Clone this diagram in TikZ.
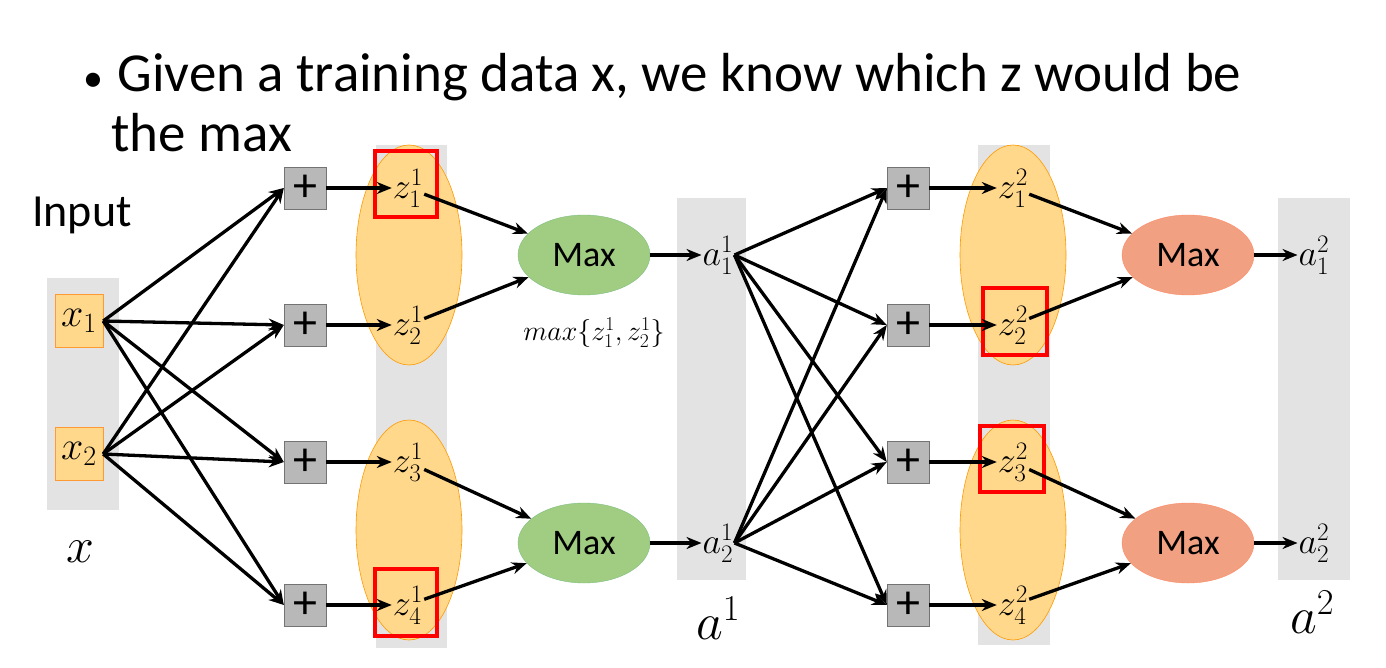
\documentclass[tikz,border=0pt]{standalone}
\usepackage{fix-cm}
\usepackage{fontspec}
\setmainfont{Carlito}
\usetikzlibrary{arrows.meta,shapes.geometric}
\definecolor{ellc}{RGB}{255,216,140}
\definecolor{gfill}{RGB}{160,205,130}
\definecolor{rfill}{RGB}{242,160,130}
\begin{document}
\begin{tikzpicture}[x=1pt,y=-1pt,
  col/.style={fill=black!11,draw=none},
  ell/.style={ellipse,fill=ellc,draw=orange!80!yellow,line width=0.6pt,minimum width=106pt,minimum height=220pt},
  plus/.style={draw=black!55,fill=black!28,minimum size=42pt,inner sep=0pt,font=\fontsize{48}{48}\selectfont},
  xb/.style={draw=orange!80,fill=ellc,minimum width=48pt,minimum height=53pt,inner sep=0pt,font=\fontsize{40}{40}\selectfont},
  lab/.style={font=\fontsize{36}{36}\selectfont,inner sep=1pt},
  gmax/.style={ellipse,fill=gfill,draw=green!50!black!50,minimum width=132pt,minimum height=80pt,font=\fontsize{36}{36}\selectfont},
  rmax/.style={ellipse,fill=rfill,draw=red!50!orange!60,minimum width=132pt,minimum height=80pt,font=\fontsize{36}{36}\selectfont},
  red/.style={draw=red,line width=4pt},
  ar/.style={-{Stealth[length=15pt,width=12pt]},line width=3.3pt}]
\useasboundingbox (0,0) rectangle (1386,668);
\node[anchor=west,font=\fontsize{55}{60}\selectfont,align=left] (t) at (80,103) {{\fontsize{40}{40}\selectfont\textbullet}\hspace{14pt}Given a training data x, we know which z would be\\\hspace{28pt}the max};
\node[font=\fontsize{46}{46}\selectfont] (in) at (82,215) {Input};
\fill[col] (47,278) rectangle (119,510);
\fill[col] (376,145) rectangle (447,648);
\fill[col] (677,198) rectangle (746,580);
\fill[col] (978,145) rectangle (1050,645);
\fill[col] (1278,198) rectangle (1350,580);
\node[ell] (e1) at (409,255) {};
\node[ell] (e2) at (409,530) {};
\node[ell] (e3) at (1013,255) {};
\node[ell] (e4) at (1013,530) {};
\node[xb] (x1) at (79,321) {$x_1$};
\node[xb] (x2) at (79,454) {$x_2$};
\node[font=\fontsize{50}{50}\selectfont] (xl) at (80,552) {$x$};
\foreach \i/\y in {1/188,2/325,3/462,4/605}{
  \node[plus] (p\i) at (305,\y) {+};
  \node[plus] (q\i) at (908,\y) {+};
  \node[lab] (z\i) at (408,\y) {$z^1_\i$};
  \node[lab] (w\i) at (1013,\y) {$z^2_\i$};
}
\draw[red] (375,151) rectangle (437,217);
\draw[red] (375,569) rectangle (437,636);
\draw[red] (983,288) rectangle (1047,355);
\draw[red] (980,426) rectangle (1044,492);
\node[gmax] (m1) at (584,255) {Max};
\node[gmax] (m2) at (584,543) {Max};
\node[rmax] (r1) at (1188,255) {Max};
\node[rmax] (r2) at (1188,543) {Max};
\node[font=\fontsize{28}{28}\selectfont] (mx) at (594,333) {$max\{z^1_1,z^1_2\}$};
\node[lab] (a1) at (718,255) {$a^1_1$};
\node[lab] (a2) at (718,543) {$a^1_2$};
\node[lab] (b1) at (1314,255) {$a^2_1$};
\node[lab] (b2) at (1314,543) {$a^2_2$};
\node[font=\fontsize{52}{52}\selectfont] (A1) at (718,618) {$a^1$};
\node[font=\fontsize{52}{52}\selectfont] (A2) at (1312,612) {$a^2$};
\foreach \i in {1,2,3,4}{
  \draw[ar] (x1.east) -- (p\i.west);
  \draw[ar] (x2.east) -- (p\i.west);
  \draw[ar] (p\i) -- (z\i);
  \draw[ar] (a1.east) -- (q\i.west);
  \draw[ar] (a2.east) -- (q\i.west);
  \draw[ar] (q\i) -- (w\i);
}
\draw[ar] (z1) -- (m1); \draw[ar] (z2) -- (m1);
\draw[ar] (z3) -- (m2); \draw[ar] (z4) -- (m2);
\draw[ar] (w1) -- (r1); \draw[ar] (w2) -- (r1);
\draw[ar] (w3) -- (r2); \draw[ar] (w4) -- (r2);
\draw[ar] (m1) -- (a1); \draw[ar] (m2) -- (a2);
\draw[ar] (r1) -- (b1); \draw[ar] (r2) -- (b2);
\end{tikzpicture}
\end{document}
